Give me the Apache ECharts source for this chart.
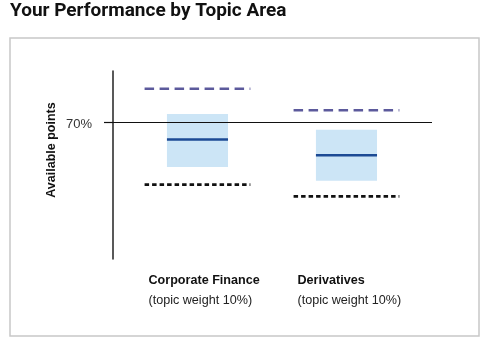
<!DOCTYPE html>
<html>
<head>
<meta charset="utf-8">
<script src="https://cdn.jsdelivr.net/npm/echarts@6/dist/echarts.min.js"></script>
<style>
html,body{margin:0;padding:0;background:#fff;}
#chart{width:484px;height:341px;}
</style>
</head>
<body>
<div id="chart"></div>
<script>
// ---- data ----
var categories = ['Corporate Finance', 'Derivatives'];
var topicWeights = [10, 10];
var lowerValues  = [38, 32];   // dotted black line
var boxLowValues = [47, 40];   // light blue box bottom
var medianValues = [61, 53];   // dark blue line
var boxHighValues = [74, 66];  // light blue box top
var upperValues  = [87, 76];   // dashed purple line
var referenceValue = 70;       // 70% line
var yTickValues = [70];

var boxData = categories.map(function (c, i) {
  return [i, lowerValues[i], boxLowValues[i], medianValues[i], boxHighValues[i], upperValues[i]];
});

var chart = echarts.init(document.getElementById('chart'), null, {renderer: 'canvas'});

function renderItem(params, api) {
  var x = api.value(0);
  var pLow = api.coord([x, api.value(1)]);
  var pB1 = api.coord([x, api.value(2)]);
  var pMed = api.coord([x, api.value(3)]);
  var pB2 = api.coord([x, api.value(4)]);
  var pUp = api.coord([x, api.value(5)]);
  var boxW = api.size([0.41, 0])[0];
  var lineW = api.size([0.71, 0])[0];
  var cx = pMed[0];
  return {
    type: 'group',
    children: [
      {type: 'rect', shape: {x: cx - boxW / 2, y: pB2[1], width: boxW, height: pB1[1] - pB2[1]},
        style: {fill: '#cce5f6'}},
      {type: 'line', shape: {x1: cx - boxW / 2, y1: pMed[1], x2: cx + boxW / 2, y2: pMed[1]},
        style: {stroke: '#1c4a94', lineWidth: 2.5}},
      {type: 'line', shape: {x1: cx - lineW / 2, y1: pUp[1], x2: cx + lineW / 2, y2: pUp[1]},
        style: {stroke: '#5c5a9c', lineWidth: 2.5, lineDash: [9.5, 5.5]}},
      {type: 'line', shape: {x1: cx - lineW / 2, y1: pLow[1], x2: cx + lineW / 2, y2: pLow[1]},
        style: {stroke: '#111', lineWidth: 2.6, lineDash: [4.5, 3]}}
    ]
  };
}

chart.setOption({
  animation: false,
  title: {
    text: 'Your Performance by Topic Area',
    left: 10, top: 2, padding: 0,
    textStyle: {fontFamily: 'Roboto', fontWeight: 'bold', fontSize: 19, color: '#111'}
  },
  graphic: [{
    type: 'rect', silent: true,
    shape: {x: 10, y: 38, width: 469, height: 298},
    style: {fill: 'none', stroke: '#c8c8c8', lineWidth: 1.5}
  }],
  grid: {left: 113, right: 52, top: 71, bottom: 82},
  xAxis: {
    type: 'value', min: -0.567, max: 1.574,
    axisLine: {show: false}, axisTick: {show: false}, splitLine: {show: false},
    axisLabel: {
      customValues: [0, 1],
      margin: 12,
      width: 98,
      align: 'center',
      formatter: function (v) {
        var i = Math.round(v);
        return '{b|' + categories[i] + '}\n{n|(topic weight ' + topicWeights[i] + '%)}';
      },
      rich: {
        b: {fontFamily: 'Liberation Sans', fontWeight: 'bold', fontSize: 12.6, lineHeight: 20, color: '#111', align: 'left'},
        n: {fontFamily: 'Liberation Sans', fontSize: 12.6, lineHeight: 20, color: '#222', align: 'left'}
      }
    }
  },
  yAxis: {
    type: 'value', min: 0, max: 96,
    name: 'Available points',
    nameLocation: 'middle',
    nameGap: 55,
    nameMoveOverlap: false,
    nameTextStyle: {fontFamily: 'Liberation Sans', fontWeight: 'bold', fontSize: 12.5, color: '#111', padding: [0, 0, 0, 30]},
    axisLine: {show: true, onZero: false, lineStyle: {color: '#222', width: 1.5}},
    axisTick: {show: true, customValues: yTickValues, length: 9, lineStyle: {color: '#111', width: 1.2}},
    axisLabel: {
      customValues: yTickValues, margin: 21,
      formatter: function (v) { return '{p|' + v + '%}'; },
      rich: {p: {fontFamily: 'Liberation Sans', fontSize: 13, color: '#333', padding: [6, 0, 0, 0]}}
    },
    splitLine: {show: false}
  },
  series: [{
    type: 'custom',
    renderItem: renderItem,
    encode: {x: 0, y: [1, 2, 3, 4, 5]},
    data: boxData,
    markLine: {
      silent: true, symbol: 'none',
      label: {show: false},
      lineStyle: {color: '#111', width: 1.2, type: 'solid'},
      data: [{yAxis: referenceValue}]
    }
  }]
});
</script>
</body>
</html>
